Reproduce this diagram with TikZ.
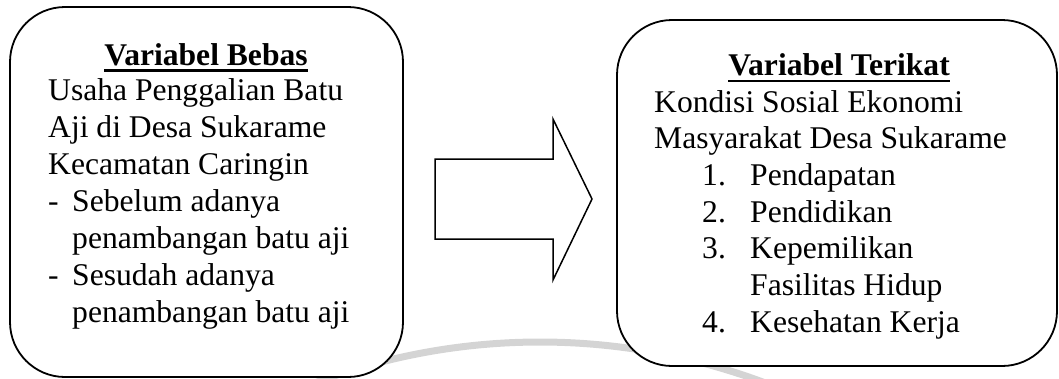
\documentclass[tikz,border=0pt]{standalone}
\usepackage{fontspec}
\setmainfont{Liberation Serif}
\begin{document}
\begin{tikzpicture}[x=1pt,y=-1pt,
  panel/.style={draw=black, line width=1.8pt, fill=white, rounded corners=55pt, inner sep=0pt},
  bodytext/.style={anchor=base west, inner sep=0pt, font=\fontsize{31.6}{37}\selectfont},
  headtext/.style={anchor=base, inner sep=0pt, font=\fontsize{31.6}{37}\selectfont\bfseries},
  headrule/.style={line width=2.6pt},
  blockarrow/.style={draw=black, line width=1.5pt, line join=miter, fill=white},
  emblemring/.style={draw=black!17, line width=7pt}]
\useasboundingbox (0,0) rectangle (1059,378);

% faint emblem ring in the background
\draw[emblemring] (540,982) ++(-112:640) arc[start angle=-112, end angle=-68, radius=640];

% the two variable panels
\node[panel, minimum width=393pt, minimum height=370pt] (bebas) at (206.5,192) {};
\node[panel, minimum width=440pt, minimum height=346pt] (terikat) at (837,193) {};

% independent variable
\node[headtext] (hb) at (206,65) {Variabel Bebas};
\draw[headrule] ([yshift=-5.5pt]hb.base west) -- ([yshift=-5.5pt]hb.base east);
\node[bodytext] (b1) at (48,100) {Usaha Penggalian Batu};
\node[bodytext] (b2) at (48,137) {Aji di Desa Sukarame};
\node[bodytext] (b3) at (48,174) {Kecamatan Caringin};
\node[bodytext] (b4) at (48,211) {\makebox[24pt][l]{-}Sebelum adanya};
\node[bodytext] (b5) at (72,248) {penambangan batu aji};
\node[bodytext] (b6) at (48,285) {\makebox[24pt][l]{-}Sesudah adanya};
\node[bodytext] (b7) at (72,322) {penambangan batu aji};

% dependent variable
\node[headtext] (ht) at (839,75) {Variabel Terikat};
\draw[headrule] ([yshift=-6pt]ht.base west) -- ([yshift=-6pt]ht.base east);
\node[bodytext] (t1) at (654,112) {Kondisi Sosial Ekonomi};
\node[bodytext] (t2) at (654,148.7) {Masyarakat Desa Sukarame};
\node[bodytext] (n1) at (702,185.4) {1.};
\node[bodytext] (t3) at (750,185.4) {Pendapatan};
\node[bodytext] (n2) at (702,222.1) {2.};
\node[bodytext] (t4) at (750,222.1) {Pendidikan};
\node[bodytext] (n3) at (702,258.8) {3.};
\node[bodytext] (t5) at (750,258.8) {Kepemilikan};
\node[bodytext] (t6) at (750,295.5) {Fasilitas Hidup};
\node[bodytext] (n4) at (702,332.2) {4.};
\node[bodytext] (t7) at (750,332.2) {Kesehatan Kerja};

% block arrow between the panels
\draw[blockarrow] (435,159) -- (553,159) -- (553,119) -- (592,199)
  -- (553,280) -- (553,239) -- (435,239) -- cycle;
\end{tikzpicture}
\end{document}
